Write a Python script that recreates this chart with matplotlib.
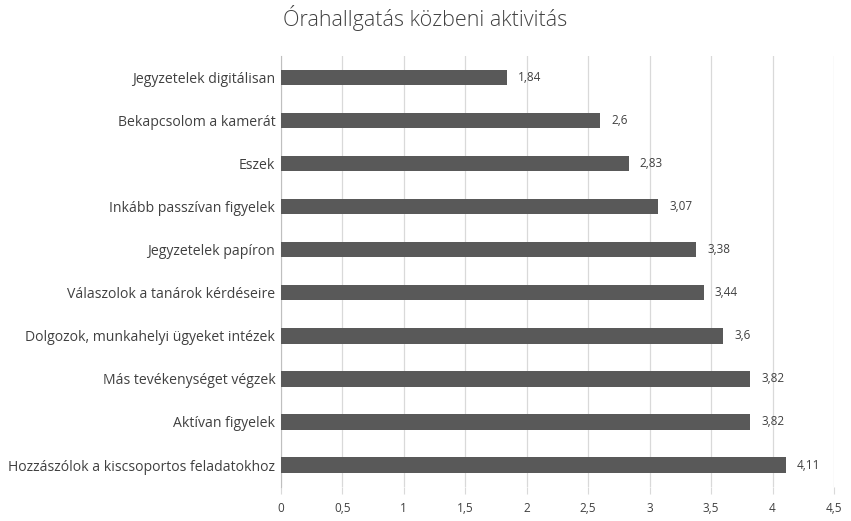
"""Órahallgatás közbeni aktivitás - horizontal bar chart."""

import matplotlib
matplotlib.use("Agg")
import matplotlib.pyplot as plt

categories = [
    "Jegyzetelek digitálisan",
    "Bekapcsolom a kamerát",
    "Eszek",
    "Inkább passzívan figyelek",
    "Jegyzetelek papíron",
    "Válaszolok a tanárok kérdéseire",
    "Dolgozok, munkahelyi ügyeket intézek",
    "Más tevékenységet végzek",
    "Aktívan figyelek",
    "Hozzászólok a kiscsoportos feladatokhoz",
]
values = [1.84, 2.6, 2.83, 3.07, 3.38, 3.44, 3.6, 3.82, 3.82, 4.11]
value_labels = ["1,84", "2,6", "2,83", "3,07", "3,38", "3,44", "3,6", "3,82", "3,82", "4,11"]
x_ticks = [0, 0.5, 1, 1.5, 2, 2.5, 3, 3.5, 4, 4.5]
x_tick_labels = ["0", "0,5", "1", "1,5", "2", "2,5", "3", "3,5", "4", "4,5"]

plt.rcParams["font.family"] = ["Open Sans", "DejaVu Sans"]

fig = plt.figure(figsize=(8.51, 5.21), dpi=100)
ax = fig.add_axes([0.330, 0.066, 0.650, 0.827])

pos = list(range(len(categories)))
ax.barh(pos, values, height=0.36, color="#595959", zorder=3)
for p, v, lab in zip(pos, values, value_labels):
    ax.annotate(lab, (v, p), xytext=(8, 0), textcoords="offset points",
                va="center", ha="left", fontsize=8.5, color="#404040")

ax.set_ylim(len(categories) - 0.5, -0.5)
ax.set_yticks(pos)
ax.set_yticklabels(categories, fontsize=10.1, color="#404040")
ax.set_xlim(0, 4.5)
ax.set_xticks(x_ticks)
ax.set_xticklabels(x_tick_labels, fontsize=8.5, color="#404040")

ax.grid(axis="x", color="#d9d9d9", linewidth=0.9, zorder=0)
for s in ["top", "right", "bottom"]:
    ax.spines[s].set_visible(False)
ax.spines["left"].set_color("#bfbfbf")
ax.tick_params(axis="y", length=0, pad=4)
ax.tick_params(axis="x", length=5, color="#d9d9d9", pad=6)

fig.suptitle("Órahallgatás közbeni aktivitás", x=0.5, y=0.99, fontsize=15.5,
             color="#404040", fontweight="light")

fig.savefig("out.png", dpi=100)
